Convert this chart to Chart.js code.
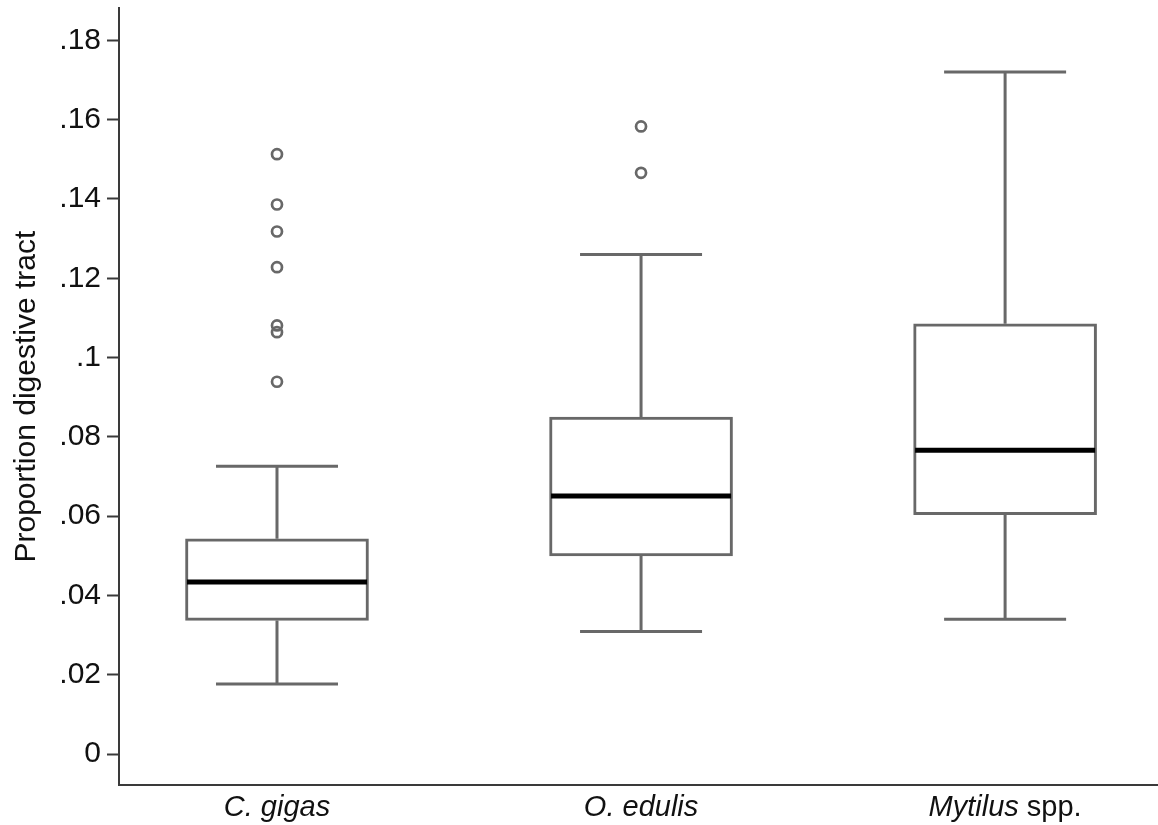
<!DOCTYPE html>
<html>
<head>
<meta charset="utf-8">
<script src="https://cdn.jsdelivr.net/npm/chart.js@4"></script>
<style>
  html, body { margin: 0; padding: 0; background: #fff; }
  #wrap { width: 1158px; height: 825px; }
</style>
</head>
<body>
<div id="wrap"><canvas id="box-chart"></canvas></div>
<script>
// Values
var categories = ['C. gigas', 'O. edulis', 'Mytilus spp.'];
var lowerWhisker = [0.0177, 0.0309, 0.0340];
var q1 = [0.0337, 0.0500, 0.0604];
var median = [0.0434, 0.0651, 0.0766];
var q3 = [0.0543, 0.0850, 0.1085];
var upperWhisker = [0.0726, 0.1260, 0.1720];
var outliers = [
  [0.1513, 0.1386, 0.1318, 0.1228, 0.1081, 0.1064, 0.0939],
  [0.1583, 0.1466],
  []
];
var yTicks = [0, 0.02, 0.04, 0.06, 0.08, 0.1, 0.12, 0.14, 0.16, 0.18];

var boxColor = '#686868';
var axisColor = '#3a3a3a';
var fontFamily = '"Liberation Sans", Arial, sans-serif';

var boxData = categories.map(function(c, i) {
  return { x: i + 1, y: [q1[i], q3[i]] };
});
var outlierData = [];
outliers.forEach(function(list, i) {
  list.forEach(function(v) {
    outlierData.push({ x: i + 1, y: v });
  });
});

// whiskers under the boxes, medians on top
var boxPlotPlugin = {
  id: 'boxPlot',
  beforeDatasetsDraw: function(chart) {
    var ctx = chart.ctx;
    var xs = chart.scales.x;
    var ys = chart.scales.y;
    ctx.save();
    ctx.strokeStyle = boxColor;
    ctx.lineWidth = 3;
    categories.forEach(function(c, i) {
      var x = xs.getPixelForValue(i + 1);
      var capHalf = 61;
      ctx.beginPath();
      ctx.moveTo(x, ys.getPixelForValue(lowerWhisker[i]));
      ctx.lineTo(x, ys.getPixelForValue(q1[i]));
      ctx.moveTo(x, ys.getPixelForValue(q3[i]));
      ctx.lineTo(x, ys.getPixelForValue(upperWhisker[i]));
      ctx.moveTo(x - capHalf, ys.getPixelForValue(lowerWhisker[i]));
      ctx.lineTo(x + capHalf, ys.getPixelForValue(lowerWhisker[i]));
      ctx.moveTo(x - capHalf, ys.getPixelForValue(upperWhisker[i]));
      ctx.lineTo(x + capHalf, ys.getPixelForValue(upperWhisker[i]));
      ctx.stroke();
    });
    ctx.restore();
  },
  afterDatasetsDraw: function(chart) {
    var ctx = chart.ctx;
    var xs = chart.scales.x;
    var ys = chart.scales.y;
    ctx.save();
    ctx.strokeStyle = '#000';
    ctx.lineWidth = 5;
    categories.forEach(function(c, i) {
      var x = xs.getPixelForValue(i + 1);
      var y = ys.getPixelForValue(median[i]);
      ctx.beginPath();
      ctx.moveTo(x - 90, y);
      ctx.lineTo(x + 90, y);
      ctx.stroke();
    });
    ctx.restore();
  },
  afterDraw: function(chart) {
    // category labels, italic species names
    var ctx = chart.ctx;
    var xs = chart.scales.x;
    var y = xs.top + 31;
    ctx.save();
    ctx.fillStyle = '#111';
    ctx.textBaseline = 'alphabetic';
    ctx.textAlign = 'left';
    categories.forEach(function(c, i) {
      var x = xs.getPixelForValue(i + 1);
      var parts = c === 'Mytilus spp.' ? [['italic', 'Mytilus'], ['normal', ' spp.']] : [['italic', c]];
      var total = 0;
      parts.forEach(function(p) {
        ctx.font = p[0] + ' 29px ' + fontFamily;
        total += ctx.measureText(p[1]).width;
      });
      var cx = x - total / 2;
      parts.forEach(function(p) {
        ctx.font = p[0] + ' 29px ' + fontFamily;
        ctx.fillText(p[1], cx, y);
        cx += ctx.measureText(p[1]).width;
      });
    });
    ctx.restore();
  }
};

var ctx = document.getElementById('box-chart').getContext('2d');
var boxChart = new Chart(ctx, {
  type: 'bar',
  data: {
    datasets: [{
      type: 'bar',
      data: boxData,
      backgroundColor: '#fff',
      borderColor: boxColor,
      borderWidth: 3,
      borderSkipped: false,
      barThickness: 183,
      order: 2
    }, {
      type: 'line',
      data: outlierData,
      showLine: false,
      pointRadius: 5,
      pointBorderWidth: 2.7,
      pointBorderColor: boxColor,
      pointBackgroundColor: 'rgba(0,0,0,0)',
      order: 1
    }]
  },
  options: {
    responsive: true,
    maintainAspectRatio: false,
    animation: false,
    layout: { autoPadding: false, padding: { top: 0, right: 0, left: 0, bottom: 0 } },
    plugins: {
      legend: { display: false },
      tooltip: { enabled: false }
    },
    scales: {
      x: {
        type: 'linear',
        offset: false,
        min: 0.566,
        max: 3.42,
        grid: { display: false },
        border: { color: axisColor, width: 2 },
        ticks: { display: false },
        afterFit: function(scale) { scale.height = 40; }
      },
      y: {
        min: -0.0078,
        max: 0.1881,
        afterBuildTicks: function(scale) {
          scale.ticks = yTicks.map(function(v) { return { value: v }; });
        },
        grid: {
          drawOnChartArea: false,
          drawTicks: true,
          tickLength: 12,
          tickWidth: 2,
          tickColor: axisColor
        },
        border: { color: axisColor, width: 2 },
        ticks: {
          padding: 6,
          color: '#111',
          font: { family: fontFamily, size: 30, lineHeight: 0.15 },
          callback: function(v) {
            return v === 0 ? '0' : String(+v.toFixed(2)).replace(/^0/, '');
          }
        },
        title: {
          display: true,
          text: 'Proportion digestive tract',
          color: '#111',
          font: { family: fontFamily, size: 30 },
          padding: { top: 9, bottom: 0 }
        },
        afterFit: function(scale) { scale.width = 119; }
      }
    }
  },
  plugins: [boxPlotPlugin]
});
</script>
</body>
</html>
